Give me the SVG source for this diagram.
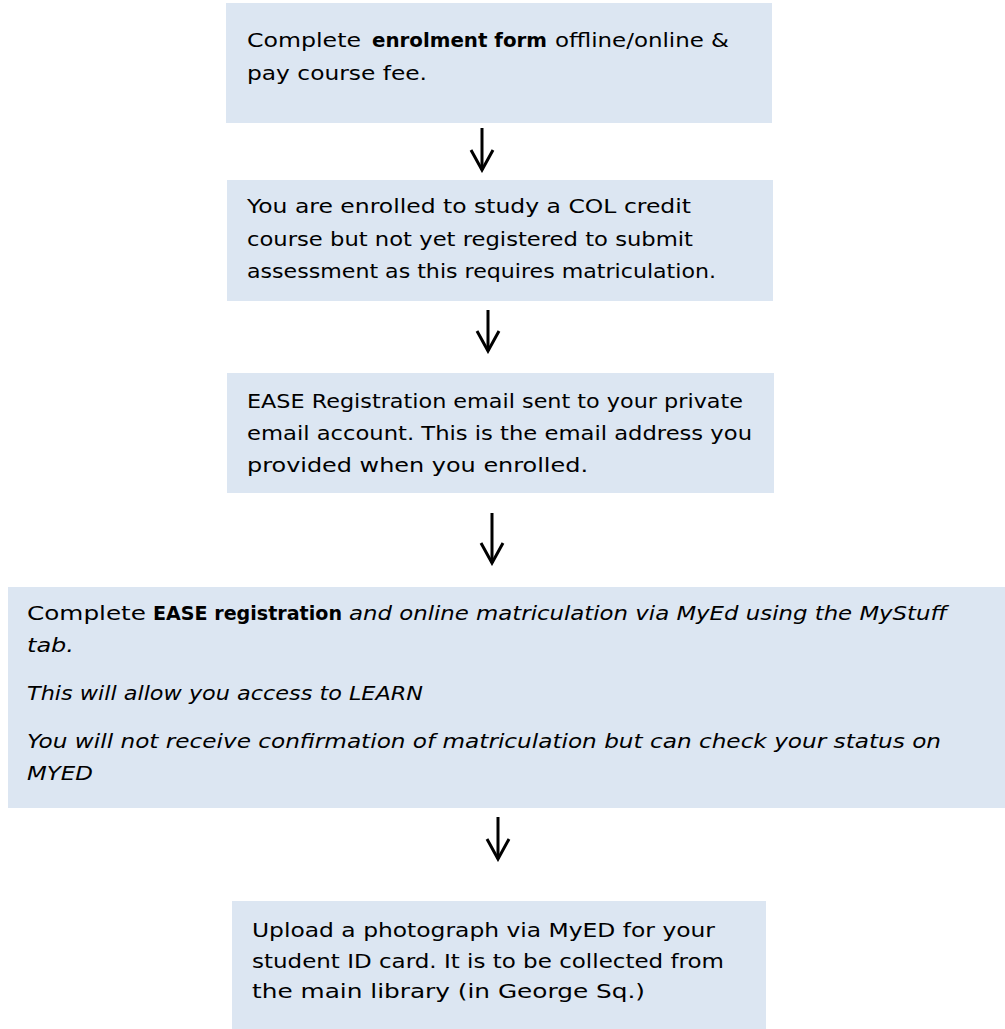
<svg xmlns="http://www.w3.org/2000/svg" width="1005" height="1029" viewBox="0 0 1005 1029">
<style>
.box{fill:#DCE6F2;}
text{font-family:"DejaVu Sans","Liberation Sans",sans-serif;font-size:20px;fill:#000;}
.b{font-weight:bold;}
.i{font-style:italic;}
.arr{stroke:#000;stroke-width:3;fill:none;}
</style>
<defs>
<marker id="head" viewBox="0 0 24 26" refX="21" refY="13" markerWidth="24" markerHeight="26" markerUnits="userSpaceOnUse" orient="auto">
<path d="M1,2 L21,13 L1,24" fill="none" stroke="#000" stroke-width="3"/>
</marker>
</defs>
<rect width="1005" height="1029" fill="#fff"/>
<g id="connectors">
<path class="arr" d="M482,128 V170" marker-end="url(#head)"/>
<path class="arr" d="M488,310 V351" marker-end="url(#head)"/>
<path class="arr" d="M492,513 V563" marker-end="url(#head)"/>
<path class="arr" d="M498,817 V859" marker-end="url(#head)"/>
</g>
<g id="node1">
<rect class="box" x="226" y="3" width="546" height="120"/>
<text x="247" y="47" textLength="114" lengthAdjust="spacingAndGlyphs">Complete</text>
<text class="b" x="372" y="47" textLength="175" lengthAdjust="spacingAndGlyphs">enrolment form</text>
<text x="555" y="47" textLength="174" lengthAdjust="spacingAndGlyphs">offline/online &amp;</text>
<text x="247" y="80" textLength="180" lengthAdjust="spacingAndGlyphs">pay course fee.</text>
</g>
<g id="node2">
<rect class="box" x="227" y="180" width="546" height="121"/>
<text x="247" y="213" textLength="444" lengthAdjust="spacingAndGlyphs">You are enrolled to study a COL credit</text>
<text x="247" y="246" textLength="446" lengthAdjust="spacingAndGlyphs">course but not yet registered to submit</text>
<text x="247" y="278" textLength="469" lengthAdjust="spacingAndGlyphs">assessment as this requires matriculation.</text>
</g>
<g id="node3">
<rect class="box" x="227" y="373" width="547" height="120"/>
<text x="247" y="408" textLength="496" lengthAdjust="spacingAndGlyphs">EASE Registration email sent to your private</text>
<text x="247" y="440" textLength="505" lengthAdjust="spacingAndGlyphs">email account. This is the email address you</text>
<text x="247" y="472" textLength="341" lengthAdjust="spacingAndGlyphs">provided when you enrolled.</text>
</g>
<g id="node4">
<rect class="box" x="8" y="587" width="997" height="221"/>
<text x="27" y="620" textLength="119" lengthAdjust="spacingAndGlyphs">Complete</text>
<text class="b" x="153" y="620" textLength="189" lengthAdjust="spacingAndGlyphs">EASE registration</text>
<text class="i" x="349" y="620" textLength="598" lengthAdjust="spacingAndGlyphs">and online matriculation via MyEd using the MyStuff</text>
<text class="i" x="27" y="652" textLength="47" lengthAdjust="spacingAndGlyphs">tab.</text>
<text class="i" x="27" y="700" textLength="396" lengthAdjust="spacingAndGlyphs">This will allow you access to LEARN</text>
<text class="i" x="27" y="748" textLength="914" lengthAdjust="spacingAndGlyphs">You will not receive confirmation of matriculation but can check your status on</text>
<text class="i" x="27" y="780" textLength="66" lengthAdjust="spacingAndGlyphs">MYED</text>
</g>
<g id="node5">
<rect class="box" x="232" y="901" width="534" height="128"/>
<text x="252" y="937" textLength="463" lengthAdjust="spacingAndGlyphs">Upload a photograph via MyED for your</text>
<text x="252" y="968" textLength="472" lengthAdjust="spacingAndGlyphs">student ID card. It is to be collected from</text>
<text x="252" y="998" textLength="393" lengthAdjust="spacingAndGlyphs">the main library (in George Sq.)</text>
</g>
</svg>
